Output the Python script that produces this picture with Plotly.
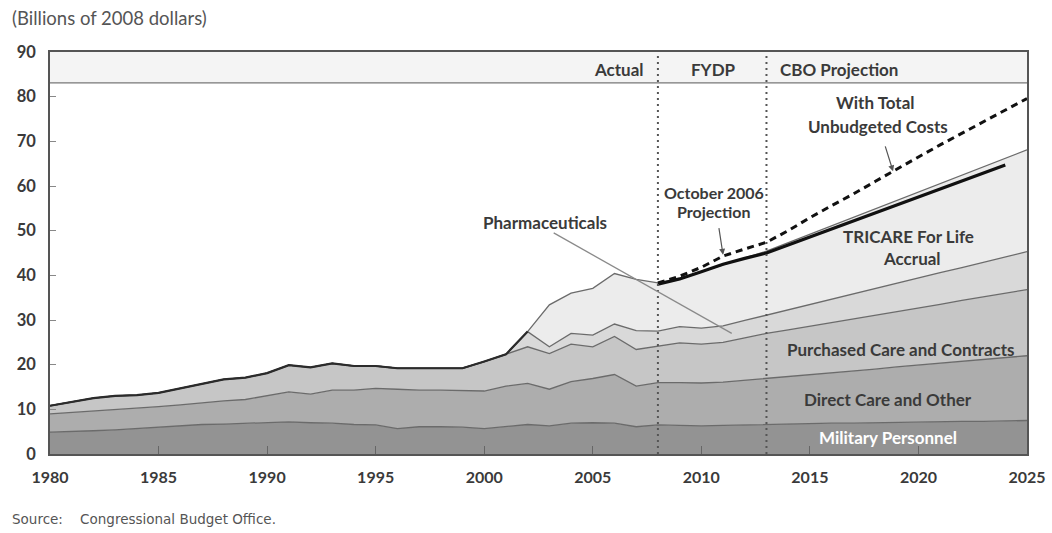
import plotly.graph_objects as go

years = list(range(1980, 2026))

# Layer amounts (billions of 2008 dollars)
military_personnel = [4.9, 5.0, 5.2, 5.4, 5.7, 6.1, 6.3, 6.6, 6.7, 6.9,
                      7.0, 7.2, 7.0, 6.9, 6.6, 6.5, 5.7, 6.1, 6.1, 6.0,
                      5.7, 6.1, 6.6, 6.3, 6.9, 7.0, 6.9, 6.1, 6.5, 6.4,
                      6.3, 6.4, 6.5, 6.7, 6.8, 6.8, 6.9, 6.9, 7.0, 7.1,
                      7.1, 7.2, 7.3, 7.3, 7.4, 7.5]
direct_care_other = [4.1, 4.3, 4.5, 4.6, 4.5, 4.5, 4.7, 4.9, 5.2, 5.3,
                     6.0, 6.7, 6.4, 7.4, 7.7, 8.2, 8.8, 8.2, 8.2, 8.2,
                     8.4, 9.1, 9.2, 8.2, 9.3, 9.9, 10.9, 9.1, 9.5, 9.6,
                     9.6, 9.7, 10.0, 10.2, 10.5, 11.0, 11.3, 11.7, 12.0, 12.4,
                     12.8, 13.1, 13.4, 13.9, 14.2, 14.5]
purchased_care = [1.8, 2.4, 2.8, 3.0, 3.0, 3.1, 3.7, 4.3, 4.8, 4.9,
                  5.1, 6.0, 6.0, 6.0, 5.4, 5.0, 4.7, 4.9, 4.9, 5.0,
                  6.6, 7.1, 8.2, 8.0, 8.4, 7.1, 8.5, 8.2, 8.2, 8.9,
                  8.7, 8.9, 9.5, 10.1, 10.5, 10.8, 11.3, 11.7, 12.1, 12.4,
                  12.8, 13.2, 13.7, 14.0, 14.4, 14.8]
pharmaceuticals = [0, 0, 0, 0, 0, 0, 0, 0, 0, 0,
                   0, 0, 0, 0, 0, 0, 0, 0, 0, 0,
                   0, 0, 3.4, 1.5, 2.4, 2.6, 2.8, 4.2, 3.3, 3.6,
                   3.6, 3.7, 3.9, 4.1, 4.5, 4.9, 5.1, 5.5, 5.9, 6.3,
                   6.7, 7.1, 7.3, 7.7, 8.1, 8.5]
tfl_accrual = [0, 0, 0, 0, 0, 0, 0, 0, 0, 0,
               0, 0, 0, 0, 0, 0, 0, 0, 0, 0,
               0, 0, 0, 9.4, 9.0, 10.5, 11.3, 11.5, 10.8, 10.8,
               12.6, 13.7, 14.0, 14.3, 15.0, 15.7, 16.5, 17.2, 17.9, 18.6,
               19.3, 20.0, 20.7, 21.4, 22.1, 22.8]

# Projection lines
oct2006_years = list(range(2008, 2025))
oct2006_projection = [38.0, 39.2, 40.8, 42.5, 43.8, 45.0, 46.8, 48.6, 50.4,
                      52.2, 54.0, 55.7, 57.5, 59.3, 61.1, 62.9, 64.7]
unbudgeted_years = list(range(2008, 2026))
total_unbudgeted = [38.3, 39.8, 41.8, 44.3, 45.9, 47.4, 50.0, 52.9, 55.6,
                    58.2, 61.0, 63.8, 66.5, 69.2, 71.8, 74.4, 77.0, 79.6]

x_ticks = [1980, 1985, 1990, 1995, 2000, 2005, 2010, 2015, 2020, 2025]
y_ticks = [0, 10, 20, 30, 40, 50, 60, 70, 80, 90]

FONT = "Lato"
TXT = "#3a3a3a"
EDGE = "#6b6b6b"
LBL = 17

fig = go.Figure()

layers = [
    ("Military Personnel", military_personnel, "#939393"),
    ("Direct Care and Other", direct_care_other, "#adadad"),
    ("Purchased Care and Contracts", purchased_care, "#c6c6c6"),
    ("Pharmaceuticals", pharmaceuticals, "#d9d9d9"),
    ("TRICARE For Life Accrual", tfl_accrual, "#ececec"),
]
for name, vals, col in layers:
    fig.add_trace(go.Scatter(
        x=years, y=vals, name=name, stackgroup="one", mode="lines",
        fillcolor=col, line=dict(color=EDGE, width=1.3), hoverinfo="skip",
    ))

# dark total line over the actual years up to 2002
total = [a + b + c + d + e for a, b, c, d, e in zip(
    military_personnel, direct_care_other, purchased_care, pharmaceuticals, tfl_accrual)]
n_dark = years.index(2002) + 1
fig.add_trace(go.Scatter(x=years[:n_dark], y=total[:n_dark], mode="lines",
                         line=dict(color="#2b2b2b", width=2.2), hoverinfo="skip"))

fig.add_trace(go.Scatter(x=oct2006_years, y=oct2006_projection, mode="lines",
                         line=dict(color="#111111", width=3.2), hoverinfo="skip"))
fig.add_trace(go.Scatter(x=unbudgeted_years, y=total_unbudgeted, mode="lines",
                         line=dict(color="#111111", width=3, dash="7px,5px"),
                         hoverinfo="skip"))

# header band
fig.add_shape(type="rect", xref="paper", yref="y", x0=0, x1=1, y0=83.1, y1=90,
              fillcolor="#f4f4f4", line=dict(width=0), layer="below")
fig.add_shape(type="line", xref="paper", yref="y", x0=0, x1=1, y0=83.1, y1=83.1,
              line=dict(color="#777777", width=1.3))

# period dividers
for xv in (2008, 2013):
    fig.add_shape(type="line", x0=xv, x1=xv, y0=0, y1=90, xref="x", yref="y",
                  line=dict(color="#555555", width=2, dash="2px,4px"))

# pharmaceuticals leader line
fig.add_shape(type="line", x0=2003.2, y0=49.5, x1=2011.4, y1=27.0,
              line=dict(color="#8a8a8a", width=1.3))

def label(x, y, text, size=LBL, color=TXT, xanchor="center"):
    fig.add_annotation(x=x, y=y, text=text, showarrow=False, xanchor=xanchor,
                       font=dict(family=FONT, size=size, color=color, weight="bold"))

label(2007.45, 86.0, "Actual", xanchor="right")
label(2010.55, 86.0, "FYDP")
label(2013.55, 86.0, "CBO Projection", xanchor="left")

label(2002.82, 51.9, "Pharmaceuticals")
label(2010.58, 58.6, "October 2006", size=16)
label(2010.58, 54.3, "Projection", size=16)
label(2018.0, 78.6, "With Total")
label(2018.14, 73.4, "Unbudgeted Costs")
label(2019.52, 48.8, "TRICARE For Life")
label(2019.7, 43.7, "Accrual")
label(2019.2, 23.5, "Purchased Care and Contracts")
label(2018.6, 12.1, "Direct Care and Other")
label(2018.6, 3.6, "Military Personnel", color="#ffffff")

for (x0, y0, x1, y1) in [(2010.8, 50.9, 2011.0, 44.6), (2018.45, 69.2, 2018.83, 63.3)]:
    fig.add_annotation(x=x1, y=y1, ax=x0, ay=y0, xref="x", yref="y",
                       axref="x", ayref="y", text="", showarrow=True,
                       arrowhead=2, arrowsize=1, arrowwidth=1.2,
                       arrowcolor="#555555")

fig.add_annotation(xref="paper", yref="paper", x=-0.041, y=1.084, xanchor="left",
                   yanchor="middle", text="(Billions of 2008 dollars)", showarrow=False,
                   font=dict(family=FONT, size=18.5, color="#555555"))
fig.add_annotation(xref="paper", yref="paper", x=-0.041, y=-0.162, xanchor="left",
                   yanchor="middle", text="Source:&nbsp;&nbsp;&nbsp;&nbsp;Congressional Budget Office.",
                   showarrow=False, font=dict(family="DejaVu Sans", size=13.5, color="#555555"))

# plot box at x 50..1027, y 52..454 of the 1052x533 page
fig.update_layout(
    width=1052, height=533,
    margin=dict(l=50, r=25, t=52, b=79, autoexpand=False),
    paper_bgcolor="white", plot_bgcolor="white",
    showlegend=False,
    font=dict(family=FONT, color=TXT),
    xaxis=dict(range=[1980, 2025], tickvals=x_ticks, ticks="inside", ticklen=8,
               tickcolor="#666666", showgrid=False, zeroline=False,
               showline=True, linecolor="#555555", linewidth=1.6, mirror=True,
               ticklabelstandoff=8, automargin=False,
               tickfont=dict(family=FONT, size=16, color=TXT, weight="bold")),
    yaxis=dict(range=[0, 90], tickvals=y_ticks, ticks="inside", ticklen=6,
               tickcolor="#888888", showgrid=False, zeroline=False,
               showline=True, linecolor="#555555", linewidth=1.6, mirror=True,
               ticklabelstandoff=9, automargin=False,
               tickfont=dict(family=FONT, size=16.5, color=TXT, weight="bold")),
)

# remove the default 8px page margin so the figure fills the window exactly
fig.write_html("out.html",
               config={"displayModeBar": False},
               post_script="document.body.style.margin='0';"
                           "document.body.style.overflow='hidden';")
